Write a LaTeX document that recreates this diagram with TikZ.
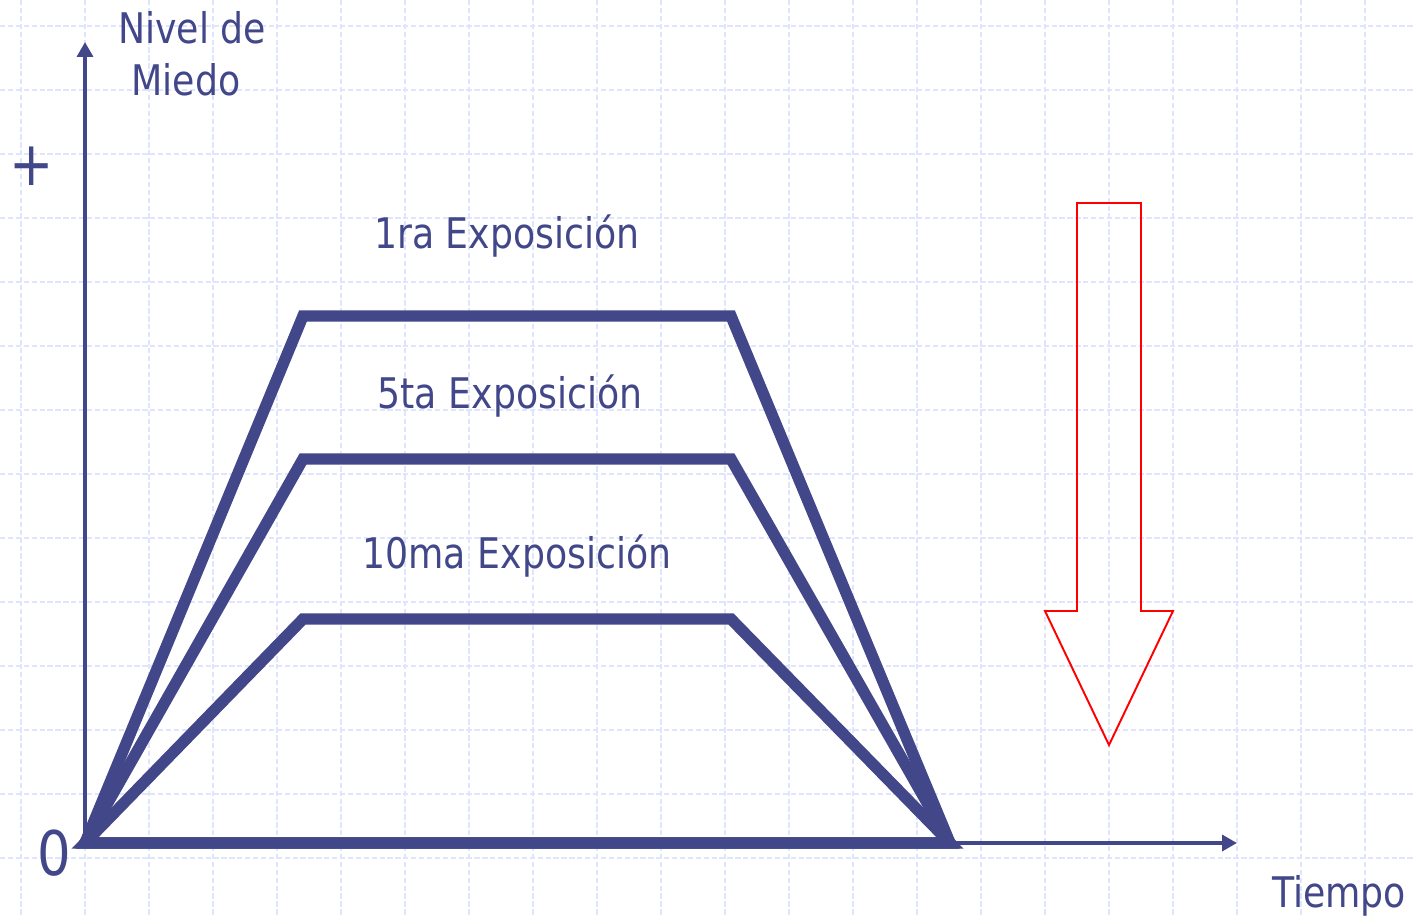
\documentclass[tikz,border=0pt]{standalone}
\usepackage{fontspec}
\setmainfont{DejaVu Sans}[FakeStretch=0.86]
\usepackage{xcolor}
\usetikzlibrary{arrows.meta,positioning}

\definecolor{fearblue}{RGB}{65,71,137}
\definecolor{gridblue}{RGB}{222,229,252}

\tikzset{
    gridline/.style={gridblue, line width=0.7pt, dash pattern=on 3pt off 1.5pt},
    curve/.style={fearblue, line width=6.5pt, miter limit=20},
    axis/.style={fearblue, line width=2.4pt, -{Triangle[length=8.5pt,width=9pt]}},
    lbl/.style={text=fearblue, inner sep=0pt, font=\fontsize{24}{29}\selectfont},
    sign/.style={text=fearblue, inner sep=0pt, font=\fontsize{35}{40}\selectfont},
    downarrow/.style={red, line width=1.1pt},
}

\begin{document}
\begin{tikzpicture}[x=0.02cm,y=-0.02cm]
    \useasboundingbox (0,0) rectangle (1413,916);

    % background grid
    \foreach \i in {0,...,21}
        \draw[gridline] (21+64*\i,0) -- (21+64*\i,916);
    \foreach \j in {0,...,13}
        \draw[gridline] (0,26+64*\j) -- (1413,26+64*\j);

    \coordinate (origin) at (85,843);
    \coordinate (end) at (950,843);
    \coordinate (ytip) at (85,42);
    \coordinate (xtip) at (1237,843);

    \draw[axis] (origin) -- (ytip);
    \draw[axis] (end) -- (xtip);

    \draw[curve] (origin) -- (303,316) -- (731,316) -- (end) -- cycle;
    \draw[curve] (origin) -- (303,459) -- (731,459) -- (end) -- cycle;
    \draw[curve] (origin) -- (303,619) -- (731,619) -- (end) -- cycle;

    \node[lbl, anchor=base] (first) at (507,248) {1ra Exposición};
    \node[lbl, anchor=base] (fifth) at (510,408) {5ta Exposición};
    \node[lbl, anchor=base] (tenth) at (517,568) {10ma Exposición};

    \node[lbl, anchor=base] (nivel) at (192,43) {Nivel de};
    \node[lbl, anchor=base] (miedo) at (186,95) {Miedo};
    \node[lbl, anchor=base] (tiempo) at (1339,907) {Tiempo};

    \node[sign] (plus) at (32,166) {+};
    \node[sign] (zero) at (54,853) {0};

    % decreasing fear
    \draw[downarrow] (1077,203) -- (1141,203) -- (1141,611) -- (1173,611)
        -- (1109,745) -- (1045,611) -- (1077,611) -- cycle;
\end{tikzpicture}
\end{document}
